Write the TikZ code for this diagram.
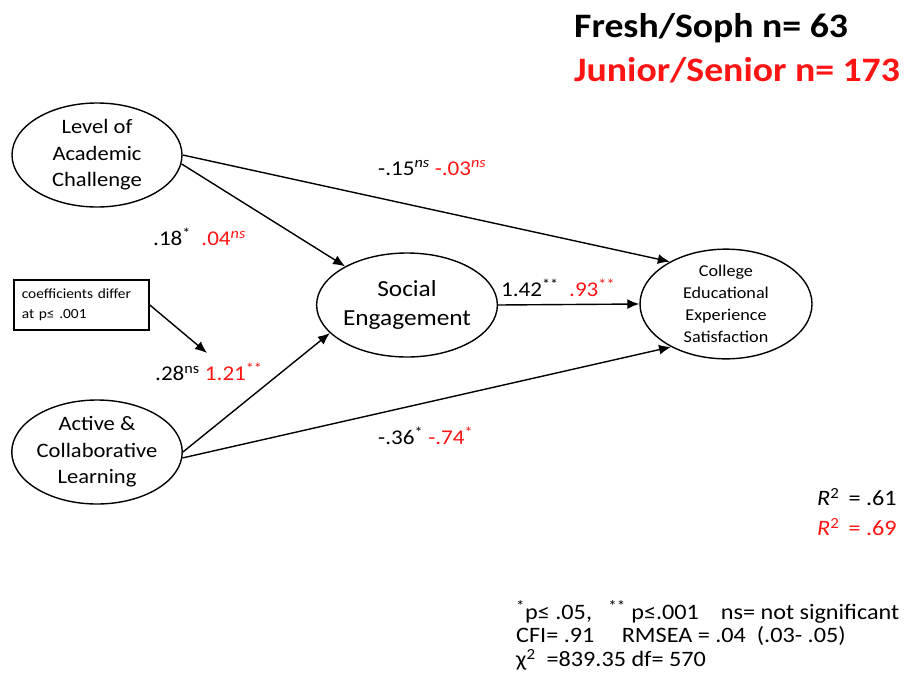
\documentclass[tikz,border=0pt]{standalone}
\usepackage{fontspec}
\setmainfont[FakeStretch=1.1]{Carlito}
\usetikzlibrary{arrows.meta,shapes.geometric}
\definecolor{sigred}{RGB}{255,20,20}
\tikzset{
  latent/.style={draw, line width=1.4pt, ellipse, minimum width=170pt, minimum height=104pt, inner sep=0pt, align=center, font=\fontsize{20.5}{26.5}\selectfont},
  pathto/.style={line width=1.4pt, -{Latex[length=12pt,width=10pt]}},
  coef/.style={font=\fontsize{21}{24}\selectfont, inner sep=0pt, anchor=west},
  fit stat/.style={font=\fontsize{22}{24}\selectfont, inner sep=0pt, anchor=west},
  note/.style={draw, line width=1.6pt, inner xsep=8pt, inner ysep=0pt, align=left, minimum width=135pt, minimum height=50pt, text width=119pt, font=\fontsize{14}{20}\selectfont},
}
\newcommand{\rd}[1]{\textcolor{sigred}{#1}}
\newcommand{\spr}[1]{\textsuperscript{#1}}
\begin{document}
\begin{tikzpicture}[x=1pt,y=-1pt]
\useasboundingbox (0,0) rectangle (904,688);
% group sizes
\node[anchor=west, inner sep=0pt, font=\bfseries\fontsize{34.3}{38}\selectfont] (hdA) at (574,28) {Fresh/Soph n= 63};
\node[anchor=west, inner sep=0pt, font=\bfseries\fontsize{34.3}{38}\selectfont, text=sigred] (hdB) at (574,70) {Junior/Senior n= 173};
% latent variables
\node[latent] (lac) at (97,155) {Level of\\Academic\\Challenge};
\node[latent] (acl) at (97,452) {Active \&\\Collaborative\\Learning};
\node[latent, font=\fontsize{23}{29}\selectfont] (se) at (407,305) {Social\\Engagement};
\node[latent, minimum width=172pt, font=\fontsize{16.5}{22}\selectfont] (ces) at (726,304) {College\\Educational\\Experience\\Satisfaction};
% note box
\node[note, anchor=north west] (nt) at (13,279) {coefficients differ\\at p≤ .001};
\coordinate (ntstart) at (nt.east);
\coordinate (ntend) at (207,353);
% structural paths
\draw[pathto] (lac.east) -- (ces.143);
\draw[pathto] (lac.-6) -- (se.148);
\draw[pathto] (acl.east) -- (se.200);
\draw[pathto] (acl.-4) -- (ces.218);
\draw[pathto] (se.east) -- (ces.west);
\draw[pathto] (ntstart) -- (ntend);
% path coefficients
\node[coef] (cA) at (153,237) {.18\spr{*}\ \ \rd{.04\spr{\itshape ns}}};
\node[coef] (cB) at (155,372) {.28\spr{ns} \rd{1.21\spr{**}}};
\node[coef] (cC) at (378,168) {-.15\spr{\itshape ns} \rd{-.03\spr{\itshape ns}}};
\node[coef] (cD) at (501,288) {1.42\spr{**}\ \ \rd{.93\spr{**}}};
\node[coef] (cE) at (378,436) {-.36\spr{*} \rd{-.74\spr{*}}};
% explained variance
\node[fit stat] (rA) at (817,497) {\textit{R}\textsuperscript{2} \,= .61};
\node[fit stat, text=sigred] (rB) at (817,527) {\textit{R}\textsuperscript{2} \,= .69};
% legend and fit indices
\node[fit stat] (lg1) at (516,612) {\spr{*}p≤ .05,\ \ \ \spr{**} p≤.001\ \ \ \ ns= not significant};
\node[fit stat] (lg2) at (516,636) {CFI= .91\ \ \ \ \ RMSEA = .04\ \ (.03- .05)};
\node[fit stat] (lg3) at (516,660) {χ\textsuperscript{2}\ \ =839.35 df= 570};
\end{tikzpicture}
\end{document}
